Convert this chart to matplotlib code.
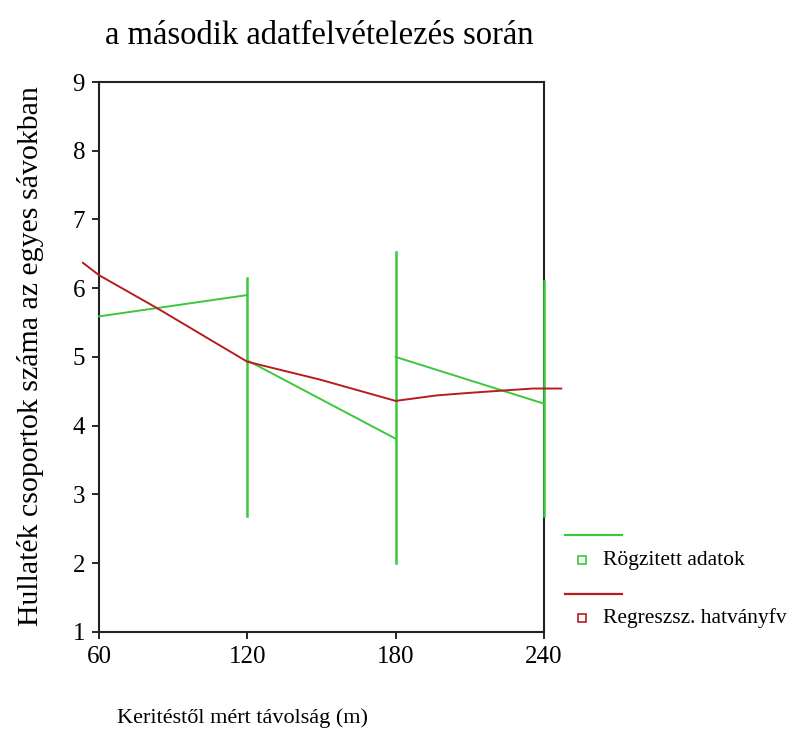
import matplotlib
matplotlib.use("Agg")
import matplotlib.pyplot as plt
from matplotlib.lines import Line2D

plt.rcParams['font.family'] = ['Liberation Serif', 'DejaVu Serif']

# rögzitett adatok: ferde szakaszok
seg_x0 = [60, 120, 180]
seg_y0 = [5.59, 4.95, 5.00]
seg_x1 = [120, 180, 240]
seg_y1 = [5.90, 3.81, 4.32]
# függőleges vonalak (szórás)
vl_x = [120, 180, 240]
vl_lo = [2.69, 2.00, 2.69]
vl_hi = [6.15, 6.53, 6.10]

# regresszió
reg_x = [53.5, 60, 83.5, 120, 149.4, 180, 196.6, 211, 235.5, 247]
reg_y = [6.37, 6.19, 5.71, 4.93, 4.67, 4.36, 4.44, 4.48, 4.54, 4.54]

xticks = [60, 120, 180, 240]
yticks = [1, 2, 3, 4, 5, 6, 7, 8, 9]

green = '#3cc83c'
red = '#b81c1c'

fig = plt.figure(figsize=(7.95, 7.53), dpi=100)
ax = fig.add_axes([0.1245, 0.161, 0.5597, 0.730])

for x0, y0, x1, y1 in zip(seg_x0, seg_y0, seg_x1, seg_y1):
    ax.plot([x0, x1], [y0, y1], color=green, lw=1.4, clip_on=False, zorder=3)
for x, lo, hi in zip(vl_x, vl_lo, vl_hi):
    ax.plot([x, x], [lo, hi], color=green, lw=1.8, clip_on=False, zorder=4)
ax.plot(reg_x, reg_y, color=red, lw=1.4, clip_on=False, zorder=5)

ax.set_xlim(60, 240)
ax.set_ylim(1, 9)
ax.set_xticks(xticks)
ax.set_yticks(yticks)
ax.tick_params(direction='out', length=5, width=1.2, labelsize=18, pad=5)
for s in ax.spines.values():
    s.set_linewidth(1.5)
    s.set_color('#222222')

fig.text(0.402, 0.953, 'a második adatfelvételezés során', ha='center', va='center', fontsize=23.5)
fig.text(0.038, 0.527, 'Hullaték csoportok száma az egyes sávokban', rotation=90,
         ha='center', va='center', fontsize=21.5)
fig.text(0.147, 0.046, 'Keritéstől mért távolság (m)', ha='left', va='center', fontsize=16)

# jelmagyarázat
fig.add_artist(Line2D([565 / 795, 622 / 795], [1 - 535 / 753, 1 - 535 / 753], color=green, lw=1.6))
fig.add_artist(Line2D([582 / 795], [1 - 560 / 753], marker='s', ms=6, mfc='white', mec=green, mew=1.2, ls='none'))
fig.text(603 / 795, 1 - 560 / 753, 'Rögzitett adatok', ha='left', va='center', fontsize=15.5)
fig.add_artist(Line2D([565 / 795, 622 / 795], [1 - 594 / 753, 1 - 594 / 753], color=red, lw=1.6))
fig.add_artist(Line2D([582 / 795], [1 - 618 / 753], marker='s', ms=6, mfc='white', mec=red, mew=1.2, ls='none'))
fig.text(603 / 795, 1 - 618 / 753, 'Regreszsz. hatványfv', ha='left', va='center', fontsize=15.5)

fig.savefig('out.png', dpi=100)
